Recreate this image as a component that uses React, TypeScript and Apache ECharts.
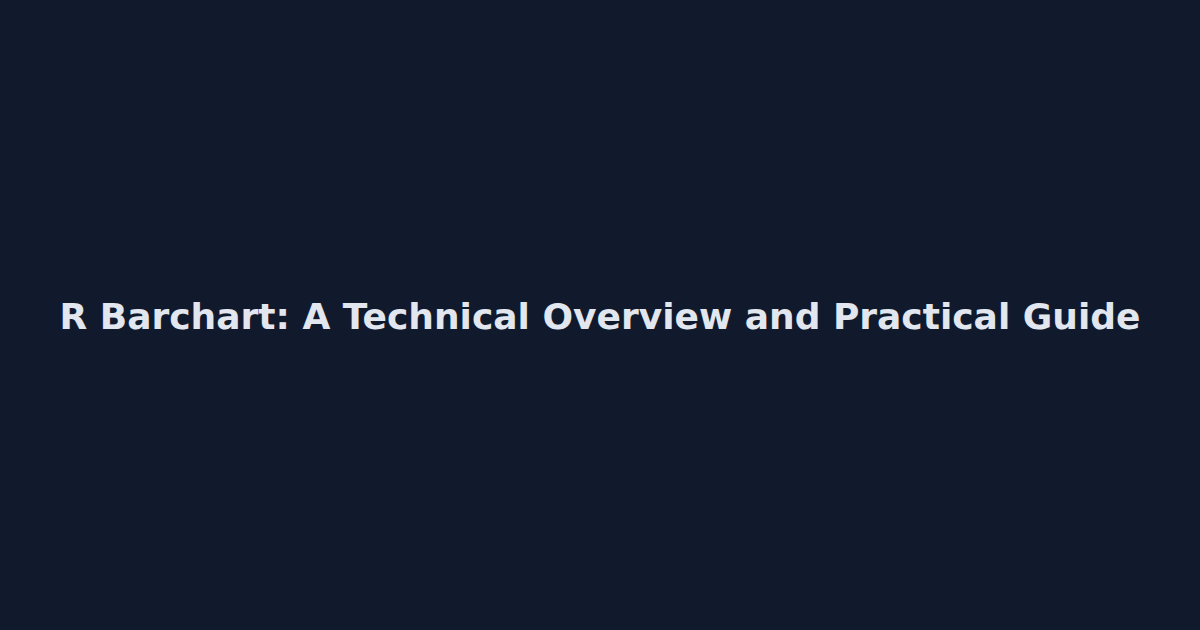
import { useEffect, useRef } from "react";
import * as echarts from "echarts";

const titleText = "R Barchart: A Technical Overview and Practical Guide";

export default function App() {
    const chartRef = useRef<HTMLDivElement>(null);

    useEffect(() => {
        if (!chartRef.current) return;
        document.body.style.margin = "0";
        const chart = echarts.init(chartRef.current, undefined, { renderer: "svg" });

        chart.setOption({
            animation: false,
            backgroundColor: "#111a2c",
            graphic: [
                {
                    type: "text",
                    left: "center",
                    top: 298,
                    style: {
                        text: titleText,
                        fill: "#e2e6ee",
                        font: "bold 36px 'DejaVu Sans'",
                    },
                },
            ],
        });

        return () => {
            chart.dispose();
        };
    }, []);

    return (
        <div
            ref={chartRef}
            style={{ position: "absolute", left: 0, top: 0, width: "1200px", height: "630px" }}
        />
    );
}
